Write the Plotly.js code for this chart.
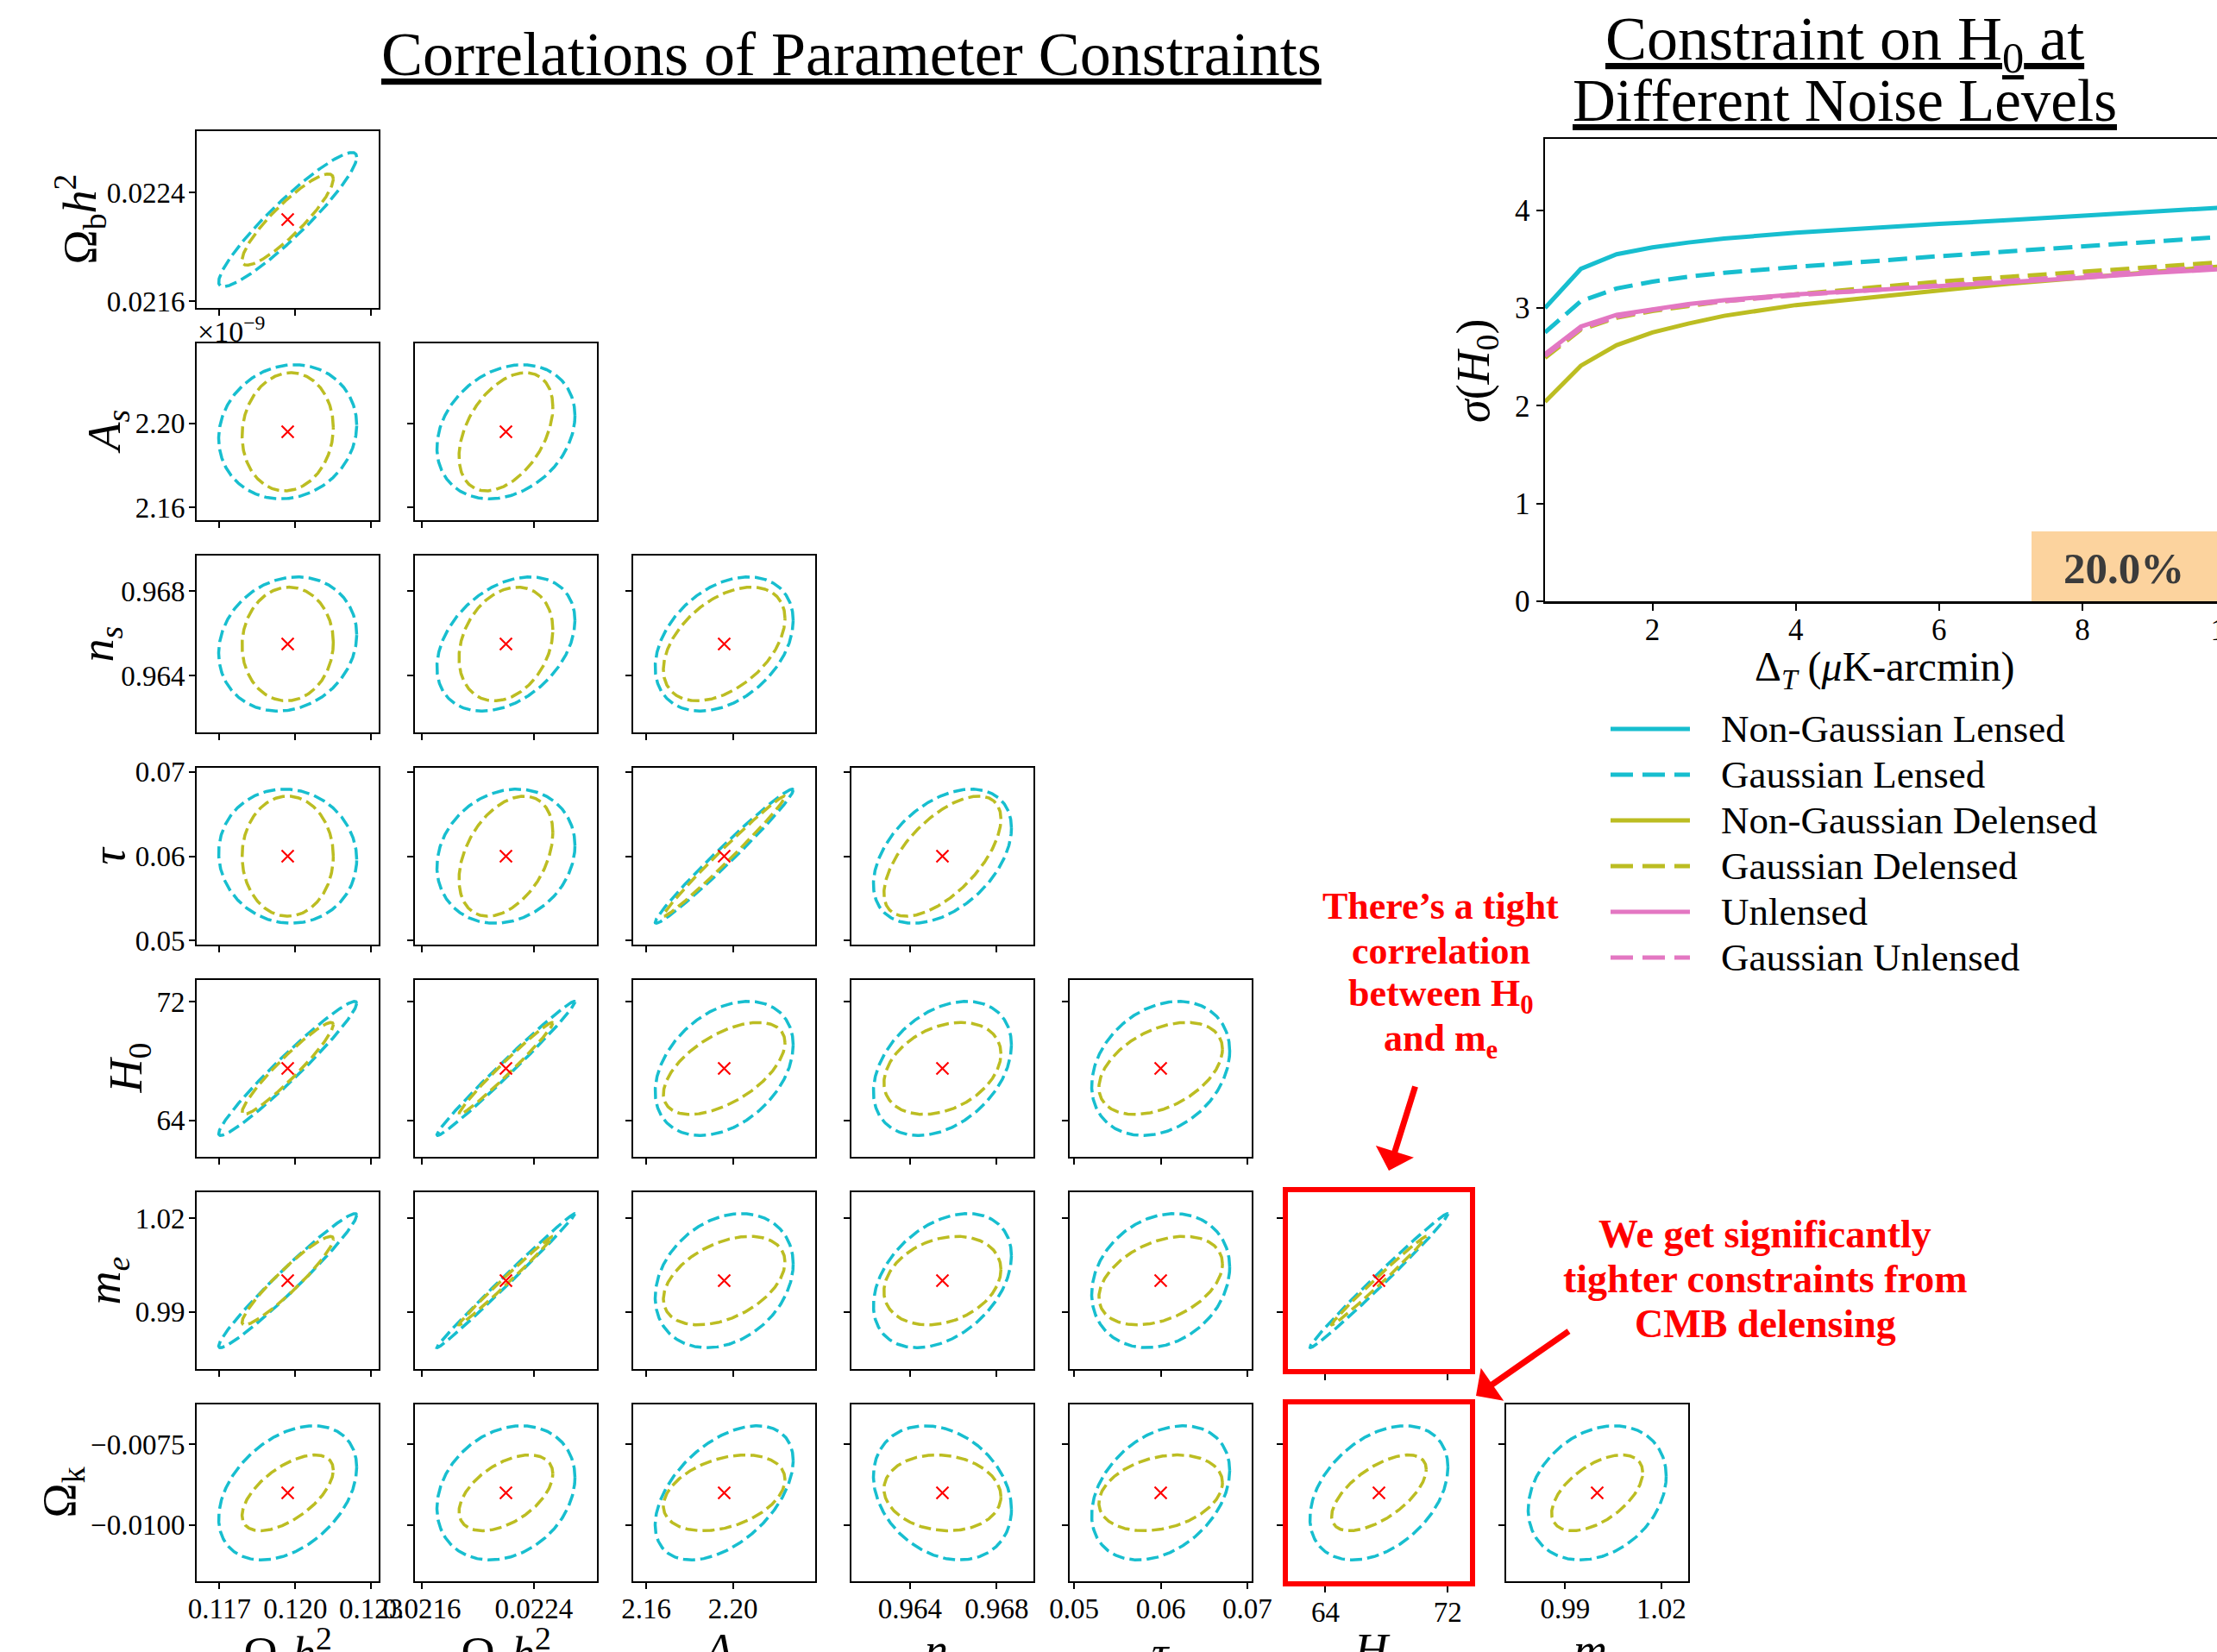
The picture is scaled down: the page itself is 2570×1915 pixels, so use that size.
<!DOCTYPE html>
<html>
<head>
<meta charset="utf-8">
<script src="https://cdn.plot.ly/plotly-3.0.1.min.js"></script>
<style>
  html, body { margin: 0; padding: 0; overflow: hidden; background: #ffffff; }
  #fig { width: 2600px; height: 1915px; }
</style>
</head>
<body>
<div id="fig"></div>
<script>
// ---------------- Parameter forecasts (corner plot) ----------------
// Order: Ωc h², Ωb h², A_s (×1e-9), n_s, τ, H0, m_e, Ωk
const paramLabels = [
  'Ω<sub>c</sub><i>h</i><sup>2</sup>',
  'Ω<sub>b</sub><i>h</i><sup>2</sup>',
  '<i>A<sub>s</sub></i>',
  '<i>n<sub>s</sub></i>',
  '<i>τ</i>',
  '<i>H</i><sub>0</sub>',
  '<i>m<sub>e</sub></i>',
  'Ω<sub>k</sub>'
];
const fiducial      = [0.1197, 0.0222, 2.196, 0.9655, 0.060, 67.5, 1.000, -0.0090];
const sigmaLensed   = [0.00180, 0.000325, 0.0210, 0.00210, 0.00525, 2.975, 0.01420, 0.00137];
const sigmaDelensed = [0.00119, 0.000221, 0.0185, 0.00178, 0.00470, 2.040, 0.00937, 0.000774];
const tickValues = [
  [0.117, 0.120, 0.123], [0.0216, 0.0224], [2.16, 2.20], [0.964, 0.968],
  [0.05, 0.06, 0.07], [64, 72], [0.99, 1.02], [-0.0075, -0.0100]
];
const tickLabels = [
  ['0.117', '0.120', '0.123'], ['0.0216', '0.0224'], ['2.16', '2.20'], ['0.964', '0.968'],
  ['0.05', '0.06', '0.07'], ['64', '72'], ['0.99', '1.02'], ['−0.0075', '−0.0100']
];
// Correlation coefficients, row r pairs parameter r+1 with parameters 0..r
const rhoLensed = [
  [0.93],
  [0.10, 0.24],
  [0.14, 0.35, 0.35],
  [-0.05, 0.16, 0.985, 0.42],
  [0.97, 0.99, 0.35, 0.35, 0.26],
  [0.974, 0.996, 0.25, 0.37, 0.20, 0.993],
  [0.38, 0.23, 0.48, -0.25, 0.33, 0.38, 0.25]
];
const rhoDelensed = [
  [0.89],
  [0.07, 0.42],
  [0.03, 0.25, 0.45],
  [0.00, 0.39, 0.99, 0.62],
  [0.95, 0.985, 0.56, 0.32, 0.42],
  [0.94, 0.995, 0.42, 0.25, 0.38, 0.994],
  [0.60, 0.50, 0.35, -0.10, 0.27, 0.62, 0.54]
];

// ---------------- σ(H0) against white-noise level ----------------
const noiseLevels = [0.5, 1, 1.5, 2, 2.5, 3, 4, 5, 6, 7, 8, 9, 10];
const sigH0NonGaussLensed   = [3.00, 3.40, 3.55, 3.62, 3.67, 3.71, 3.77, 3.82, 3.86, 3.90, 3.94, 3.98, 4.03];
const sigH0GaussLensed      = [2.75, 3.07, 3.20, 3.27, 3.32, 3.36, 3.42, 3.48, 3.53, 3.58, 3.63, 3.68, 3.73];
const sigH0NonGaussDelensed = [2.04, 2.41, 2.62, 2.75, 2.84, 2.92, 3.03, 3.11, 3.18, 3.25, 3.31, 3.37, 3.43];
const sigH0GaussDelensed    = [2.49, 2.78, 2.90, 2.97, 3.02, 3.07, 3.14, 3.21, 3.27, 3.32, 3.37, 3.42, 3.47];
const sigH0Unlensed         = [2.53, 2.81, 2.93, 2.99, 3.04, 3.08, 3.14, 3.18, 3.22, 3.27, 3.31, 3.36, 3.40];
const sigH0GaussUnlensed    = [2.51, 2.79, 2.91, 2.98, 3.03, 3.07, 3.13, 3.18, 3.23, 3.28, 3.33, 3.38, 3.43];
const improvementLabel = '20.0%';

// ---------------- Styling / geometry ----------------
const FONT = 'Liberation Serif';
const CYAN = '#17becf', OLIVE = '#bcbd22', PINK = '#e377c2';
const W = 2600, H = 1915;
const px = v => v / W;
const py = v => 1 - v / H;
const colLeft = [228, 481, 734, 987, 1240, 1493, 1746];
const rowTop  = [152, 398, 644, 890, 1136, 1382, 1628];
const panelW = 211, panelH = 205;
const K68 = Math.sqrt(2.30);          // 68% contour for two parameters
const yLabelX = [93, 124, 116, 125, 149, 124, 72];
const highlighted = [[5, 5], [6, 5]];

function ellipse(cx, cy, sx, sy, rho) {
  const xs = [], ys = [];
  const s = Math.sqrt(1 - rho * rho);
  for (let i = 0; i <= 360; i++) {
    const t = 2 * Math.PI * i / 360;
    xs.push(cx + K68 * sx * Math.cos(t));
    ys.push(cy + K68 * sy * (rho * Math.cos(t) + s * Math.sin(t)));
  }
  return { xs, ys };
}
const rangeOf = i => [fiducial[i] - 2 * sigmaLensed[i], fiducial[i] + 2 * sigmaLensed[i]];

const traces = [];
const layout = {
  width: W, height: H,
  margin: { l: 0, r: 0, t: 0, b: 0 },
  paper_bgcolor: '#ffffff', plot_bgcolor: 'rgba(0,0,0,0)',
  showlegend: false, hovermode: false,
  font: { family: FONT, color: '#000000' },
  annotations: [], shapes: []
};

function axisBase(extra) {
  return Object.assign({
    showgrid: false, zeroline: false, showline: true, mirror: true,
    linecolor: '#000000', linewidth: 2,
    ticks: 'outside', ticklen: 7, tickwidth: 2, tickcolor: '#000000',
    tickfont: { family: FONT, size: 33, color: '#000000' },
    fixedrange: true
  }, extra);
}

let n = 0;
for (let r = 0; r < 7; r++) {
  for (let c = 0; c <= r; c++) {
    n++;
    const xi = c, yi = r + 1;
    const sfx = n === 1 ? '' : String(n);
    const red = highlighted.some(h => h[0] === r && h[1] === c);
    const boxColor = red ? '#ff0000' : '#000000';
    const boxWidth = red ? 6 : 2;
    layout['xaxis' + sfx] = axisBase({
      domain: [px(colLeft[c]), px(colLeft[c] + panelW)],
      anchor: 'y' + sfx, range: rangeOf(xi),
      tickvals: tickValues[xi], ticktext: tickLabels[xi],
      showticklabels: r === 6, ticklabelstandoff: -6,
      linecolor: boxColor, linewidth: boxWidth
    });
    layout['yaxis' + sfx] = axisBase({
      domain: [py(rowTop[r] + panelH), py(rowTop[r])],
      anchor: 'x' + sfx, range: rangeOf(yi),
      tickvals: tickValues[yi], ticktext: tickLabels[yi],
      showticklabels: c === 0, ticklabelstandoff: -2,
      linecolor: boxColor, linewidth: boxWidth
    });
    const eL = ellipse(fiducial[xi], fiducial[yi], sigmaLensed[xi], sigmaLensed[yi], rhoLensed[r][c]);
    const eD = ellipse(fiducial[xi], fiducial[yi], sigmaDelensed[xi], sigmaDelensed[yi], rhoDelensed[r][c]);
    traces.push({ type: 'scatter', mode: 'lines', x: eL.xs, y: eL.ys, xaxis: 'x' + sfx, yaxis: 'y' + sfx,
      line: { color: CYAN, width: 3.5, dash: '14px,6px' } });
    traces.push({ type: 'scatter', mode: 'lines', x: eD.xs, y: eD.ys, xaxis: 'x' + sfx, yaxis: 'y' + sfx,
      line: { color: OLIVE, width: 3.5, dash: '14px,6px' } });
    traces.push({ type: 'scatter', mode: 'markers', x: [fiducial[xi]], y: [fiducial[yi]], xaxis: 'x' + sfx, yaxis: 'y' + sfx,
      marker: { symbol: 'x-thin', size: 14, line: { color: '#ff0000', width: 2.2 } } });
  }
}

// Row labels (left) and column labels (bottom)
for (let r = 0; r < 7; r++) {
  layout.annotations.push({
    text: paramLabels[r + 1], xref: 'paper', yref: 'paper',
    x: px(yLabelX[r]), y: py(rowTop[r] + panelH / 2), xanchor: 'center', yanchor: 'middle',
    textangle: -90, showarrow: false, font: { family: FONT, size: 54, color: '#000000' }
  });
}
for (let c = 0; c < 7; c++) {
  layout.annotations.push({
    text: paramLabels[c], xref: 'paper', yref: 'paper',
    x: px(colLeft[c] + panelW / 2), y: py(1916), xanchor: 'center', yanchor: 'middle',
    showarrow: false, font: { family: FONT, size: 54, color: '#000000' }
  });
}
layout.annotations.push({
  text: '×10<sup>−9</sup>', xref: 'paper', yref: 'paper', x: px(227), y: py(382),
  xanchor: 'left', yanchor: 'middle', showarrow: false, font: { family: FONT, size: 34, color: '#000000' }
});

// ---------------- Right panel: σ(H0) ----------------
const series = [
  { name: 'Non-Gaussian Lensed',   y: sigH0NonGaussLensed,   color: CYAN,  dash: 'solid' },
  { name: 'Gaussian Lensed',       y: sigH0GaussLensed,      color: CYAN,  dash: '22px,10px' },
  { name: 'Non-Gaussian Delensed', y: sigH0NonGaussDelensed, color: OLIVE, dash: 'solid' },
  { name: 'Gaussian Delensed',     y: sigH0GaussDelensed,    color: OLIVE, dash: '22px,10px' },
  { name: 'Unlensed',              y: sigH0Unlensed,         color: PINK,  dash: 'solid' },
  { name: 'Gaussian Unlensed',     y: sigH0GaussUnlensed,    color: PINK,  dash: '22px,10px' }
];
const drawOrder = [0, 1, 2, 3, 5, 4];
const rp = '29';
drawOrder.forEach(i => {
  const s = series[i];
  traces.push({ type: 'scatter', mode: 'lines', name: s.name, x: noiseLevels, y: s.y,
    xaxis: 'x' + rp, yaxis: 'y' + rp, line: { color: s.color, width: 5, dash: s.dash } });
});
const plotL = 1791, plotR = 2580, plotT = 161, plotB = 697;
layout['xaxis' + rp] = axisBase({
  domain: [px(plotL), px(plotR)], anchor: 'y' + rp, range: [0.5, 10],
  tickvals: [2, 4, 6, 8, 10], ticklen: 8, linewidth: 2.5, ticklabelstandoff: -8,
  tickfont: { family: FONT, size: 35, color: '#000000' }
});
layout['yaxis' + rp] = axisBase({
  domain: [py(plotB), py(plotT)], anchor: 'x' + rp, range: [0, 4.73],
  tickvals: [0, 1, 2, 3, 4], ticklen: 8, linewidth: 2.5,
  tickfont: { family: FONT, size: 35, color: '#000000' }
});

// improvement badge
layout.shapes.push({ type: 'rect', xref: 'paper', yref: 'paper', x0: px(2355), x1: px(2600), y0: py(697), y1: py(616),
  fillcolor: '#fcd39e', line: { width: 0 }, layer: 'below' });
layout.annotations.push({ text: '<b>' + improvementLabel + '</b>', xref: 'paper', yref: 'paper', x: px(2462), y: py(659),
  xanchor: 'center', yanchor: 'middle', showarrow: false, font: { family: FONT, size: 51, color: '#3b3b3b' } });

// axis titles of the right panel
layout.annotations.push({ text: '<i>σ</i>(<i>H</i><sub>0</sub>)', xref: 'paper', yref: 'paper', x: px(1711), y: py(430),
  xanchor: 'center', yanchor: 'middle', textangle: -90, showarrow: false, font: { family: FONT, size: 54, color: '#000000' } });
layout.annotations.push({ text: 'Δ<sub><i>T</i></sub> (<i>μ</i>K-arcmin)', xref: 'paper', yref: 'paper', x: px(2185), y: py(776),
  xanchor: 'center', yanchor: 'middle', showarrow: false, font: { family: FONT, size: 48, color: '#000000' } });

// legend
const legendRows = [845, 898, 951, 1004, 1057, 1110];
series.forEach((s, i) => {
  layout.shapes.push({ type: 'line', xref: 'paper', yref: 'paper', x0: px(1867), x1: px(1959), y0: py(legendRows[i]), y1: py(legendRows[i]),
    line: { color: s.color, width: 5, dash: s.dash === 'solid' ? 'solid' : '26px,11px' } });
  layout.annotations.push({ text: s.name, xref: 'paper', yref: 'paper', x: px(1993), y: py(legendRows[i]),
    xanchor: 'left', yanchor: 'middle', showarrow: false, font: { family: FONT, size: 45, color: '#000000' } });
});

// titles
layout.annotations.push({ text: '<u>Correlations of Parameter Constraints</u>', xref: 'paper', yref: 'paper', x: px(987), y: py(63),
  xanchor: 'center', yanchor: 'middle', showarrow: false, font: { family: FONT, size: 72, color: '#000000' } });
layout.annotations.push({ text: '<u>Constraint on H<sub>0</sub> at</u>', xref: 'paper', yref: 'paper', x: px(2138), y: py(50),
  xanchor: 'center', yanchor: 'middle', showarrow: false, font: { family: FONT, size: 72, color: '#000000' } });
layout.annotations.push({ text: '<u>Different Noise Levels</u>', xref: 'paper', yref: 'paper', x: px(2138), y: py(117),
  xanchor: 'center', yanchor: 'middle', showarrow: false, font: { family: FONT, size: 69, color: '#000000' } });

// call-outs
const note1 = ['There’s a tight', 'correlation', 'between H<sub>0</sub>', 'and m<sub>e</sub>'];
const note1Y = [1050, 1102, 1154, 1206];
note1.forEach((t, i) => layout.annotations.push({ text: '<b>' + t + '</b>', xref: 'paper', yref: 'paper', x: px(1670), y: py(note1Y[i]),
  xanchor: 'center', yanchor: 'middle', showarrow: false, font: { family: FONT, size: 44, color: '#ff0000' } }));
const note2 = ['We get significantly', 'tighter constraints from', 'CMB delensing'];
const note2Y = [1430, 1482, 1534];
note2.forEach((t, i) => layout.annotations.push({ text: '<b>' + t + '</b>', xref: 'paper', yref: 'paper', x: px(2046), y: py(note2Y[i]),
  xanchor: 'center', yanchor: 'middle', showarrow: false, font: { family: FONT, size: 46, color: '#ff0000' } }));
layout.annotations.push({ text: '', xref: 'paper', yref: 'paper', x: px(1610), y: py(1357), ax: 31, ay: -99,
  axref: 'pixel', ayref: 'pixel', showarrow: true, arrowhead: 1, arrowsize: 1.1, arrowwidth: 7, arrowcolor: '#ff0000', standoff: 0 });
layout.annotations.push({ text: '', xref: 'paper', yref: 'paper', x: px(1711), y: py(1618), ax: 109, ay: -76,
  axref: 'pixel', ayref: 'pixel', showarrow: true, arrowhead: 1, arrowsize: 1.1, arrowwidth: 7, arrowcolor: '#ff0000', standoff: 0 });

Plotly.newPlot('fig', traces, layout, { staticPlot: true, displayModeBar: false });
</script>
</body>
</html>
